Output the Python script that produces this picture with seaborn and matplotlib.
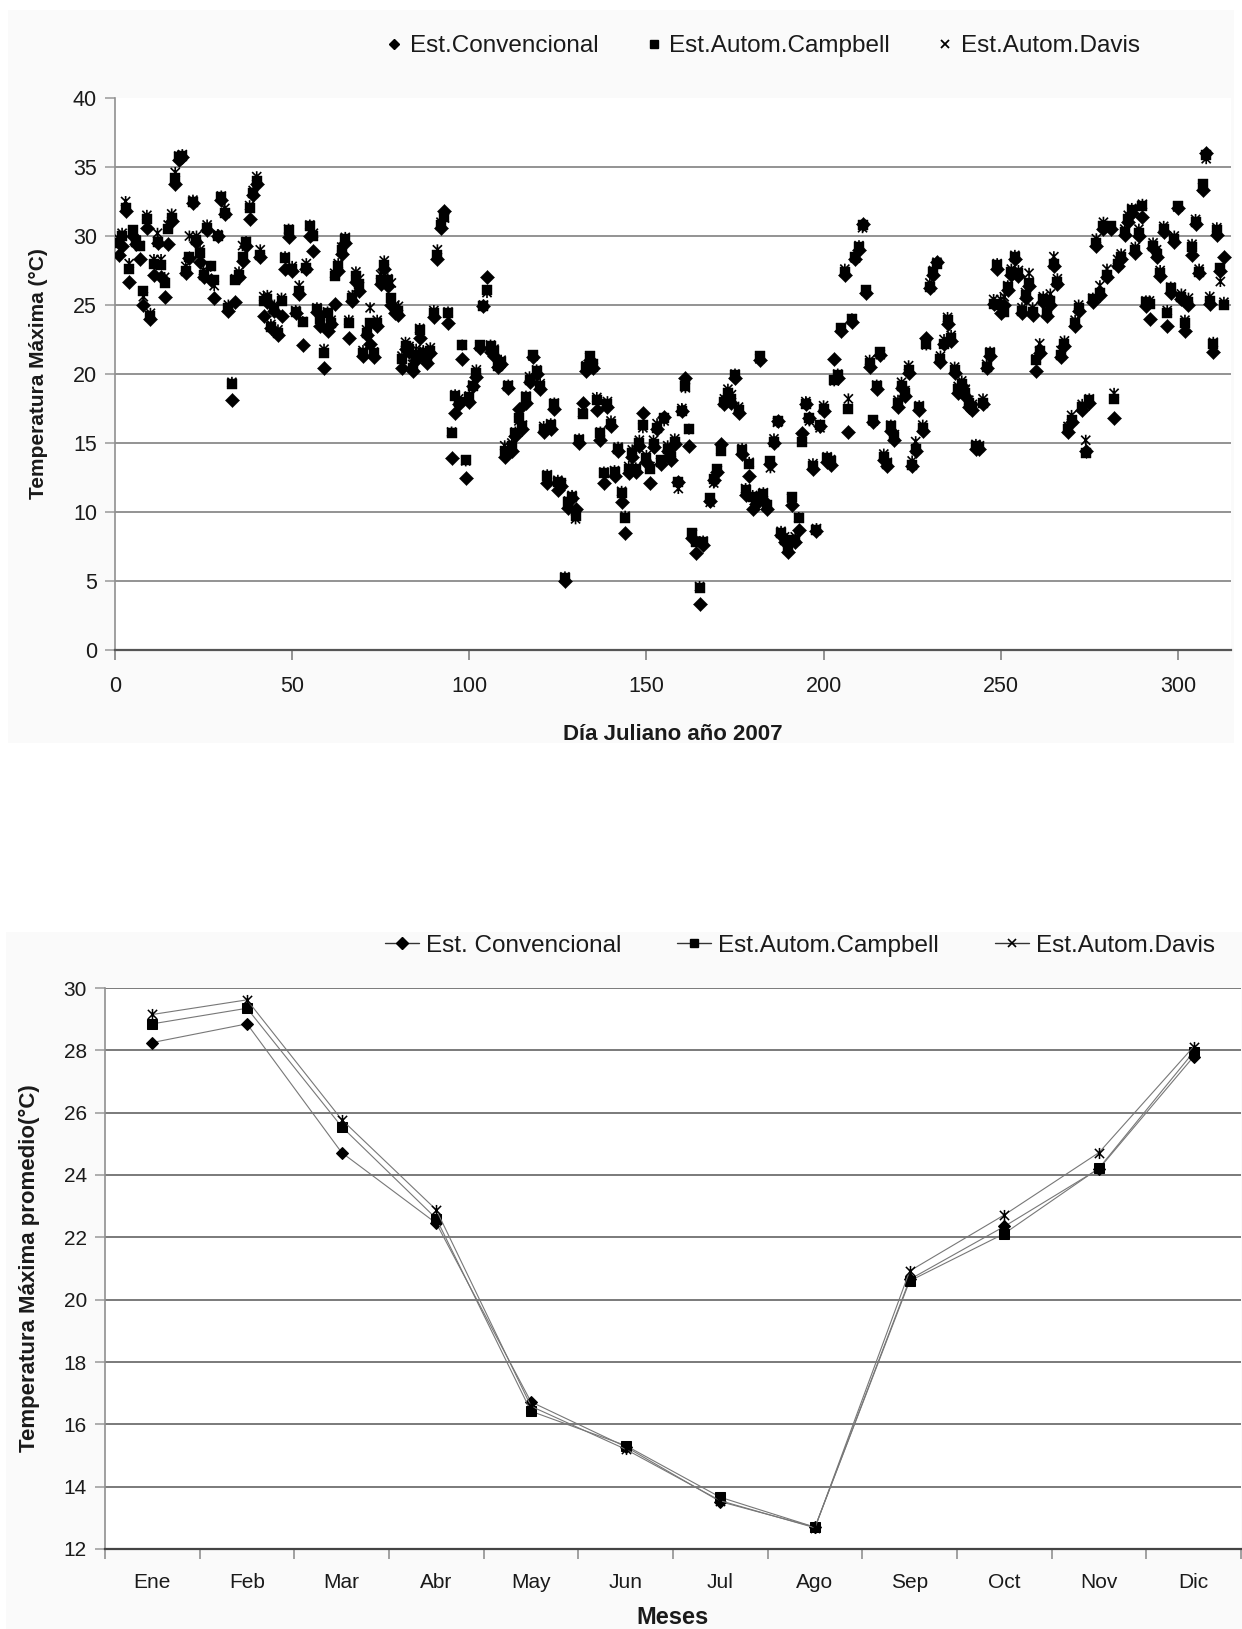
import matplotlib
matplotlib.use("Agg")
import matplotlib.pyplot as plt
import seaborn as sns
import pandas as pd
from matplotlib.lines import Line2D
from matplotlib.patches import Rectangle
from matplotlib.path import Path

# ---------------- data: daily maximum temperature (top) ----------------
dias = list(range(1, 167)) + list(range(168, 314))

t_conv = [
    28.6, 29.3, 31.8, 26.7, 30.0, 29.4, 28.3, 25.0, 30.6, 24.0,
    27.2, 29.5, 27.0, 25.6, 29.4, 31.1, 33.8, 35.5, 35.7, 27.3,
    28.4, 32.4, 29.6, 28.1, 27.0, 30.4, 26.8, 25.5, 30.0, 32.6,
    31.6, 24.6, 18.1, 25.2, 27.0, 28.2, 29.3, 31.2, 33.0, 33.8,
    28.5, 24.2, 25.2, 23.3, 24.6, 22.8, 24.2, 27.6, 29.9, 27.5,
    24.4, 25.8, 22.1, 27.6, 30.0, 28.9, 24.5, 23.5, 20.4, 23.1,
    23.6, 25.1, 27.5, 28.7, 29.5, 22.6, 25.3, 26.7, 26.0, 21.3,
    22.8, 22.2, 21.2, 23.5, 26.5, 27.6, 26.4, 25.0, 24.4, 24.3,
    20.4, 21.8, 21.6, 20.2, 21.0, 22.6, 21.3, 20.8, 21.5, 24.1,
    28.3, 30.6, 31.8, 23.7, 13.9, 17.2, 17.8, 21.1, 12.5, 18.0,
    19.1, 19.8, 21.9, 24.9, 27.0, 21.6, 21.3, 20.5, 20.7, 14.0,
    19.0, 14.4, 15.5, 17.5, 16.0, 17.9, 19.4, 21.2, 20.0, 18.9,
    15.8, 12.1, 16.0, 17.5, 11.6, 11.9, 5.0, 10.3, 11.0, 10.2,
    15.0, 17.9, 20.2, 21.0, 20.4, 17.4, 15.2, 12.1, 17.6, 16.2,
    12.6, 14.4, 10.7, 8.5, 12.8, 14.0, 12.9, 14.8, 17.2, 13.6,
    12.1, 14.7, 16.0, 13.5, 16.9, 14.4, 13.8, 14.9, 12.2, 17.3,
    19.7, 14.8, 8.1, 7.0, 3.3, 7.6, 10.8, 12.3, 12.9, 14.9,
    17.8, 18.4, 17.9, 19.7, 17.2, 14.2, 11.2, 12.6, 10.2, 10.6,
    21.0, 10.9, 10.2, 13.5, 15.0, 16.6, 8.3, 7.8, 7.1, 10.5,
    7.8, 8.7, 15.7, 17.8, 16.8, 13.1, 8.6, 16.2, 17.3, 13.6,
    13.4, 21.1, 19.7, 23.1, 27.2, 15.8, 23.8, 28.3, 29.0, 30.9,
    25.9, 20.5, 16.5, 18.9, 21.4, 13.8, 13.3, 15.9, 15.2, 17.6,
    19.0, 18.4, 20.1, 13.3, 14.4, 17.4, 15.9, 22.6, 26.2, 27.2,
    28.1, 20.9, 22.2, 23.6, 22.4, 20.1, 18.6, 19.1, 18.4, 17.6,
    17.4, 14.6, 14.6, 17.8, 20.4, 21.3, 25.1, 27.6, 24.4, 25.0,
    26.1, 27.2, 28.3, 27.1, 24.4, 25.5, 26.4, 24.3, 20.2, 21.5,
    25.2, 24.2, 25.0, 27.8, 26.5, 21.2, 22.0, 15.8, 16.5, 23.5,
    24.6, 17.4, 14.4, 17.9, 25.2, 29.3, 25.7, 30.5, 27.0, 30.5,
    16.8, 27.8, 28.3, 30.1, 31.0, 31.7, 28.8, 30.0, 31.4, 24.9,
    24.0, 29.1, 28.5, 27.1, 30.3, 23.5, 25.9, 29.6, 32.0, 25.4,
    23.1, 25.0, 28.6, 30.9, 27.3, 33.3, 36.0, 25.1, 21.6, 30.1,
    27.5, 28.5,
]

t_camp = [
    29.5, 30.0, 32.0, 27.6, 30.4, 29.6, 29.3, 26.0, 31.2, 24.2,
    28.0, 29.6, 27.9, 26.6, 30.5, 31.3, 34.2, 35.7, 35.8, 27.5,
    28.5, 32.5, 29.7, 28.8, 27.2, 30.6, 27.8, 26.8, 30.0, 32.8,
    31.7, 24.8, 19.3, 26.8, 27.2, 28.5, 29.6, 32.0, 33.1, 34.0,
    28.6, 25.3, 25.4, 23.4, 24.7, 23.0, 25.3, 28.4, 30.4, 27.6,
    24.5, 26.0, 23.8, 27.7, 30.7, 30.0, 24.7, 24.0, 21.5, 24.4,
    23.7, 27.1, 27.8, 29.0, 29.8, 23.7, 25.5, 27.1, 26.5, 21.5,
    23.0, 23.7, 21.5, 23.7, 26.8, 27.9, 26.8, 25.5, 24.7, 24.6,
    21.1, 22.0, 21.8, 20.4, 21.3, 23.2, 21.5, 21.2, 21.7, 24.4,
    28.6, 30.8, 31.4, 24.4, 15.7, 18.4, 18.0, 22.1, 13.8, 18.3,
    19.1, 20.1, 22.1, 24.9, 26.1, 22.0, 21.7, 20.6, 20.9, 14.4,
    19.1, 14.8, 15.7, 16.8, 16.2, 18.3, 19.6, 21.4, 20.2, 19.1,
    16.0, 12.6, 16.3, 17.8, 12.2, 12.1, 5.2, 10.7, 11.1, 9.7,
    15.2, 17.1, 20.5, 21.3, 20.7, 18.1, 15.7, 12.8, 17.8, 16.4,
    12.9, 14.6, 11.4, 9.6, 13.1, 14.3, 13.1, 15.0, 16.3, 13.9,
    13.1, 14.9, 16.1, 13.8, 16.8, 14.6, 14.0, 15.1, 12.2, 17.3,
    19.1, 16.0, 8.5, 7.8, 4.5, 7.8, 11.0, 12.4, 13.1, 14.4,
    18.0, 18.6, 18.2, 19.9, 17.4, 14.5, 11.6, 13.5, 11.1, 10.9,
    21.3, 11.3, 10.5, 13.7, 15.1, 16.6, 8.5, 8.0, 7.3, 11.1,
    8.0, 9.6, 15.1, 17.8, 16.8, 13.3, 8.7, 16.3, 17.5, 13.9,
    13.7, 19.6, 19.9, 23.3, 27.4, 17.5, 24.0, 28.5, 29.2, 30.8,
    26.1, 20.8, 16.7, 19.1, 21.6, 14.0, 13.5, 16.2, 15.4, 17.9,
    19.1, 18.6, 20.3, 13.4, 14.6, 17.6, 16.1, 22.2, 26.3, 27.4,
    28.0, 21.1, 22.2, 23.9, 22.6, 20.3, 18.9, 19.3, 18.6, 17.9,
    17.6, 14.8, 14.7, 17.9, 20.5, 21.5, 25.1, 27.9, 25.0, 24.5,
    26.3, 27.4, 28.5, 27.3, 24.6, 25.7, 26.6, 24.5, 21.0, 21.7,
    25.4, 24.4, 25.3, 28.0, 26.7, 21.4, 22.2, 16.0, 16.7, 23.7,
    24.8, 17.6, 14.3, 18.1, 25.4, 29.5, 25.9, 30.7, 27.2, 30.7,
    18.2, 28.0, 28.5, 30.3, 31.2, 31.9, 29.0, 30.2, 32.2, 25.2,
    25.1, 29.3, 28.7, 27.3, 30.5, 24.4, 26.2, 29.8, 32.2, 25.6,
    23.7, 25.2, 29.2, 31.0, 27.4, 33.8, 35.9, 25.3, 22.2, 30.4,
    27.7, 25.0,
]

t_davis = [
    29.8, 30.2, 32.5, 28.0, 30.2, 29.7, 29.3, 25.6, 31.5, 24.4,
    28.3, 30.2, 28.3, 27.0, 30.8, 31.6, 34.6, 35.8, 35.9, 27.8,
    30.0, 32.6, 30.0, 29.0, 27.5, 30.8, 27.8, 26.4, 30.1, 32.9,
    32.0, 25.0, 19.4, 26.9, 27.4, 29.3, 29.6, 32.2, 33.3, 34.3,
    29.0, 25.6, 25.7, 23.6, 25.0, 23.2, 25.5, 28.5, 30.5, 27.8,
    24.6, 26.4, 23.8, 28.0, 30.8, 30.2, 24.8, 24.2, 21.8, 24.5,
    23.9, 27.3, 28.0, 29.2, 29.9, 23.9, 25.7, 27.4, 26.9, 21.7,
    23.2, 24.8, 21.6, 23.9, 27.2, 28.2, 26.9, 26.6, 25.0, 24.9,
    21.3, 22.3, 22.0, 20.7, 21.8, 23.3, 21.7, 21.6, 21.9, 24.6,
    29.0, 31.0, 31.3, 24.5, 15.8, 18.5, 18.2, 22.1, 13.7, 18.4,
    19.2, 20.3, 22.0, 25.0, 25.9, 22.1, 21.8, 20.8, 21.0, 14.8,
    19.2, 15.0, 15.8, 16.6, 16.3, 18.4, 19.8, 21.3, 20.3, 19.3,
    16.2, 12.7, 16.4, 17.9, 12.3, 12.0, 5.3, 10.8, 11.2, 9.5,
    15.3, 17.2, 20.6, 21.2, 20.5, 18.3, 15.8, 12.9, 18.0, 16.6,
    13.0, 14.7, 11.5, 9.7, 13.3, 14.5, 13.2, 15.2, 16.1, 14.1,
    13.3, 15.2, 16.4, 13.6, 16.6, 14.8, 14.3, 15.3, 11.7, 17.5,
    19.0, 16.0, 8.4, 7.9, 4.6, 7.9, 10.7, 12.1, 13.0, 14.5,
    18.2, 18.9, 18.5, 20.0, 17.6, 14.6, 11.7, 13.6, 11.2, 11.0,
    21.1, 11.4, 10.4, 13.2, 15.3, 16.5, 8.6, 8.2, 7.6, 11.0,
    8.2, 9.6, 15.3, 18.0, 16.6, 13.5, 8.8, 16.1, 17.7, 14.0,
    13.8, 19.5, 20.0, 23.3, 27.6, 18.2, 24.0, 28.4, 29.3, 30.6,
    26.0, 21.0, 16.6, 19.2, 21.4, 14.2, 13.6, 16.3, 15.6, 18.1,
    19.4, 18.8, 20.6, 13.7, 15.1, 17.7, 16.3, 22.1, 26.6, 27.5,
    28.1, 21.3, 22.5, 24.1, 22.8, 20.5, 19.1, 19.5, 18.9, 18.1,
    17.8, 14.9, 14.8, 18.2, 20.7, 21.6, 25.4, 28.0, 25.4, 25.6,
    26.4, 27.6, 28.6, 27.5, 24.8, 25.9, 27.3, 24.8, 21.1, 22.2,
    25.6, 24.6, 25.8, 28.5, 26.9, 21.7, 22.4, 16.2, 17.0, 23.9,
    25.0, 17.8, 15.2, 18.2, 25.5, 29.8, 26.4, 31.0, 27.6, 30.6,
    18.6, 28.3, 28.7, 30.5, 31.5, 32.0, 29.2, 30.5, 32.3, 25.3,
    25.3, 29.5, 29.0, 27.5, 30.7, 24.6, 26.3, 30.0, 32.1, 25.8,
    23.9, 25.5, 29.4, 31.2, 27.6, 33.5, 35.6, 25.6, 22.3, 30.6,
    26.7, 25.2,
]

# ---------------- data: monthly mean maximum temperature (bottom) ----------------
meses = ["Ene", "Feb", "Mar", "Abr", "May", "Jun",
         "Jul", "Ago", "Sep", "Oct", "Nov", "Dic"]
prom_conv = [28.25, 28.85, 24.72, 22.45, 16.72, 15.28, 13.52, 12.70, 20.65, 22.35, 24.20, 27.80]
prom_camp = [28.85, 29.35, 25.55, 22.60, 16.42, 15.32, 13.66, 12.70, 20.60, 22.12, 24.22, 27.95]
prom_davis = [29.15, 29.62, 25.78, 22.88, 16.58, 15.20, 13.55, 12.68, 20.92, 22.72, 24.72, 28.12]

series_names = ["Est.Convencional", "Est.Autom.Campbell", "Est.Autom.Davis"]
series_names_b = ["Est. Convencional", "Est.Autom.Campbell", "Est.Autom.Davis"]

# ---------------- style ----------------
sns.set_theme(style="white")
plt.rcParams["font.family"] = ["Liberation Sans", "DejaVu Sans"]
plt.rcParams["axes.unicode_minus"] = False

W, H = 1242, 1629
fig = plt.figure(figsize=(W / 100, H / 100), dpi=100)
fig.patch.set_facecolor("white")

# faint chart-area backgrounds (behind the axes)
fig.patches.append(Rectangle((8 / W, 1 - 743 / H), (1234 - 8) / W, (743 - 10) / H,
                             transform=fig.transFigure, facecolor="#fafafa",
                             edgecolor="none", zorder=-10))
fig.patches.append(Rectangle((6 / W, 0), (W - 6) / W, (1629 - 932) / H,
                             transform=fig.transFigure, facecolor="#fafafa",
                             edgecolor="none", zorder=-10))

# Excel-like star marker (x + vertical bar)
star = Path([(-1, -1), (1, 1), (-1, 1), (1, -1), (0, -1.2), (0, 1.2)],
            [Path.MOVETO, Path.LINETO, Path.MOVETO, Path.LINETO, Path.MOVETO, Path.LINETO])

TXT = "#1a1a1a"
GRID = "#8a8a8a"

# ================= TOP: scatter =================
ax1 = fig.add_axes([115 / W, 1 - 650 / H, (1231 - 115) / W, (650 - 98) / H])
ax1.set_facecolor("white")
ax1.set_zorder(1)

df = pd.DataFrame({"dia": dias, "conv": t_conv, "camp": t_camp, "davis": t_davis})

for yv in [5, 10, 15, 20, 25, 30, 35]:
    ax1.axhline(yv, color=GRID, lw=1.3, zorder=0)

sns.scatterplot(data=df, x="dia", y="conv", ax=ax1, marker="D", s=52,
                color="black", edgecolor="black", linewidth=0.3, zorder=3, legend=False)
sns.scatterplot(data=df, x="dia", y="camp", ax=ax1, marker="s", s=50,
                color="black", edgecolor="black", linewidth=0.3, zorder=4, legend=False)
sns.scatterplot(data=df, x="dia", y="davis", ax=ax1, marker=star, s=62,
                facecolor="none", edgecolor="black", linewidth=1.2, zorder=5, legend=False)

ax1.set_xlim(0, 315)
ax1.set_ylim(0, 40)
ax1.set_xticks([0, 50, 100, 150, 200, 250, 300])
ax1.set_yticks([0, 5, 10, 15, 20, 25, 30, 35, 40])
for sp in ["top", "right"]:
    ax1.spines[sp].set_visible(False)
ax1.spines["left"].set_color("#909090")
ax1.spines["left"].set_linewidth(1.2)
ax1.spines["bottom"].set_color("#555555")
ax1.spines["bottom"].set_linewidth(1.6)
ax1.tick_params(axis="x", direction="out", length=7, width=1.1, color="#777777",
                pad=12, labelsize=15.5, labelcolor=TXT, bottom=True)
ax1.tick_params(axis="y", direction="out", length=7, width=1.1, color="#999999",
                pad=6, labelsize=15.5, labelcolor=TXT, left=True)
ax1.set_xlabel("Día Juliano año 2007", fontsize=16, fontweight="bold", color=TXT, labelpad=19)
ax1.set_ylabel("Temperatura Máxima (°C)", fontsize=15, fontweight="bold", color=TXT, labelpad=18)

h_top = [
    Line2D([], [], linestyle="None", marker="D", color="black", markersize=5.5),
    Line2D([], [], linestyle="None", marker="s", color="black", markersize=5.5),
    Line2D([], [], linestyle="None", marker="x", color="black", markersize=6, markeredgewidth=1.3),
]
fig.legend(h_top, series_names, loc="center", bbox_to_anchor=(764 / W, 1 - 46 / H),
           ncol=3, frameon=False, fontsize=17.5, handlelength=0.5, handletextpad=0.4,
           columnspacing=2.0, labelcolor=TXT)

# ================= BOTTOM: monthly lines =================
ax2 = fig.add_axes([105 / W, 1 - 1549 / H, (1241 - 105) / W, (1549 - 988) / H])
ax2.set_facecolor("white")
ax2.set_zorder(1)

dfm = pd.DataFrame({"mes": list(range(len(meses))), "conv": prom_conv,
                    "camp": prom_camp, "davis": prom_davis})

for yv in [14, 16, 18, 20, 22, 24, 26, 28, 30]:
    ax2.axhline(yv, color="#707070", lw=1.3, zorder=0)

LC = "#777777"
sns.lineplot(data=dfm, x="mes", y="conv", ax=ax2, color=LC, lw=0.8, marker="D",
             markersize=6.5, markerfacecolor="black", markeredgecolor="black", zorder=3, legend=False)
sns.lineplot(data=dfm, x="mes", y="camp", ax=ax2, color=LC, lw=0.8, marker="s",
             markersize=6.5, markerfacecolor="black", markeredgecolor="black", zorder=4, legend=False)
sns.lineplot(data=dfm, x="mes", y="davis", ax=ax2, color=LC, lw=0.8, marker=star,
             markersize=8, markerfacecolor="black", markeredgecolor="black",
             markeredgewidth=1.1, zorder=5, legend=False)

ax2.set_xlim(-0.5, len(meses) - 0.5)
ax2.set_ylim(12, 30)
ax2.set_yticks([12, 14, 16, 18, 20, 22, 24, 26, 28, 30])
ax2.set_xticks([i - 0.5 for i in range(len(meses) + 1)])
ax2.set_xticklabels([])
ax2.set_xticks(list(range(len(meses))), minor=True)
ax2.set_xticklabels(meses, minor=True)
for sp in ["top", "right"]:
    ax2.spines[sp].set_visible(False)
ax2.spines["left"].set_color("#909090")
ax2.spines["left"].set_linewidth(1.2)
ax2.spines["bottom"].set_color("#444444")
ax2.spines["bottom"].set_linewidth(1.6)
ax2.tick_params(axis="x", which="major", direction="out", length=7, width=1.1,
                color="#888888", bottom=True)
ax2.tick_params(axis="x", which="minor", length=0, pad=17, labelsize=15,
                labelcolor=TXT, bottom=True)
ax2.tick_params(axis="y", direction="out", length=7, width=1.1, color="#999999",
                pad=6, labelsize=15, labelcolor=TXT, left=True)
ax2.set_xlabel("Meses", fontsize=17, fontweight="bold", color=TXT, labelpad=10)
ax2.set_ylabel("Temperatura Máxima promedio(°C)", fontsize=16, fontweight="bold",
               color=TXT, labelpad=17)

h_bot = [
    Line2D([], [], color="#333333", lw=1.0, marker="D", markersize=6,
           markerfacecolor="black", markeredgecolor="black"),
    Line2D([], [], color="#333333", lw=1.0, marker="s", markersize=6,
           markerfacecolor="black", markeredgecolor="black"),
    Line2D([], [], color="#333333", lw=1.0, marker="x", markersize=6,
           markeredgewidth=1.2, markeredgecolor="black"),
]
fig.legend(h_bot, series_names_b, loc="center", bbox_to_anchor=(800 / W, 1 - 946 / H),
           ncol=3, frameon=False, fontsize=17.5, handlelength=1.4, handletextpad=0.3,
           columnspacing=2.3, labelcolor=TXT)

fig.savefig("out.png", dpi=100, facecolor="white")
